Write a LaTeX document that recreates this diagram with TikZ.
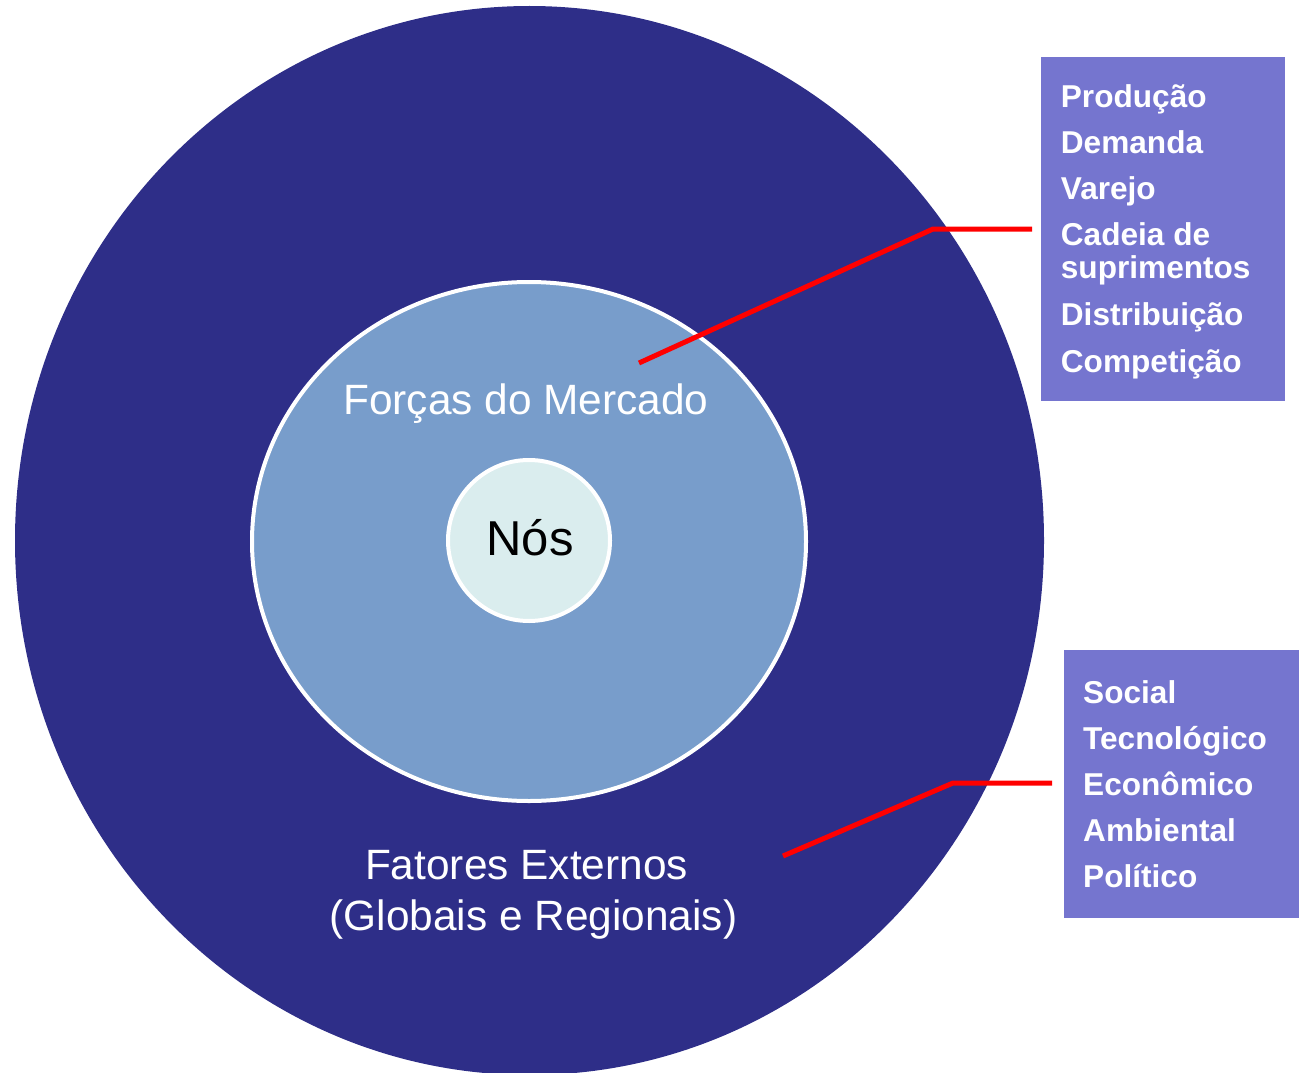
\documentclass[tikz,border=0pt]{standalone}
\usepackage{fontspec}
\setmainfont{Liberation Sans}
\usetikzlibrary{shapes.geometric}
\definecolor{outerblue}{HTML}{2E2E88}
\definecolor{midblue}{HTML}{789DCB}
\definecolor{innercyan}{HTML}{DAEDEE}
\definecolor{listviolet}{HTML}{7575CF}
\definecolor{linkred}{HTML}{FF0000}
\tikzset{
  ring/.style={ellipse, inner sep=0pt},
  listbox/.style={rectangle, fill=listviolet, inner sep=0pt, anchor=north west},
  listitem/.style={anchor=base west, inner sep=0pt, text=white, font=\fontsize{31.6}{33}\selectfont\bfseries},
  biglabel/.style={anchor=base, inner sep=0pt, text=white, font=\fontsize{42.4}{50}\selectfont},
  redlink/.style={draw=linkred, line width=5pt, line join=miter}
}
\begin{document}
\begin{tikzpicture}[x=1pt,y=-1pt]
\useasboundingbox (0,0) rectangle (1299,1073);
% circles
\node[ring, fill=outerblue, minimum width=1029pt, minimum height=1069pt] (outer) at (529.5,540.5) {};
\node[ring, fill=midblue, draw=white, line width=4pt, minimum width=554pt, minimum height=519pt] (market) at (529,541.5) {};
\node[ring, fill=innercyan, draw=white, line width=4pt, minimum width=162pt, minimum height=161pt] (us) at (529,540.5) {};
% labels in circles
\node[anchor=base, inner sep=0pt, font=\fontsize{49}{55}\selectfont] (nos) at (530,555) {Nós};
\node[biglabel] (forcas) at (526,414) {Forças do Mercado};
\node[biglabel] (fatores) at (526.5,879) {Fatores Externos};
\node[biglabel] (globais) at (533.5,930) {(Globais e Regionais)};
% list boxes
\node[listbox, minimum width=244pt, minimum height=343pt] (box1) at (1041,57.3) {};
\node[listbox, minimum width=236pt, minimum height=268pt] (box2) at (1064,650) {};
\node[listitem] (p1) at (1060.7,107) {Produção};
\node[listitem] (p2) at (1060.7,153) {Demanda};
\node[listitem] (p3) at (1060.7,199) {Varejo};
\node[listitem] (p4) at (1060.7,245) {Cadeia de};
\node[listitem] (p5) at (1060.7,278) {suprimentos};
\node[listitem] (p6) at (1060.7,325) {Distribuição};
\node[listitem] (p7) at (1060.7,372) {Competição};
\node[listitem] (s1) at (1083,703) {Social};
\node[listitem] (s2) at (1083,749) {Tecnológico};
\node[listitem] (s3) at (1083,795) {Econômico};
\node[listitem] (s4) at (1083,841) {Ambiental};
\node[listitem] (s5) at (1083,887) {Político};
% connectors
\coordinate (m1) at (639,363);
\coordinate (k1) at (933,229);
\coordinate (m2) at (783,856);
\coordinate (k2) at (953,783);
\draw[redlink] (m1) -- (k1) -- ([xshift=-9pt]k1 -| box1.west);
\draw[redlink] (m2) -- (k2) -- ([xshift=-12pt]k2 -| box2.west);
\end{tikzpicture}
\end{document}
